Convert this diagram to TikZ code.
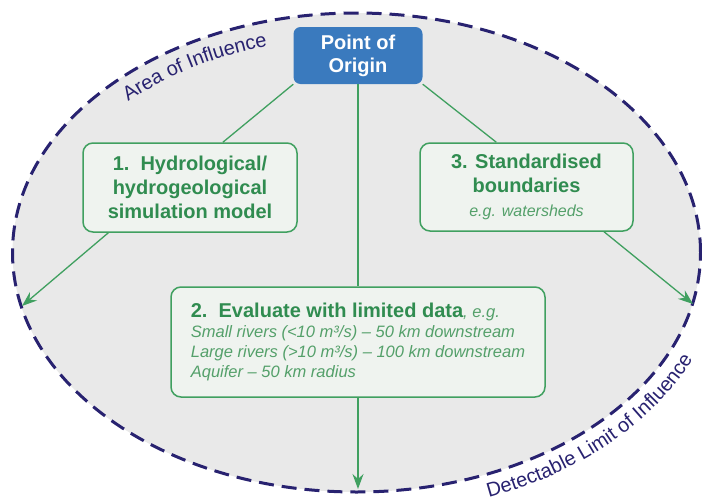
\documentclass[tikz,border=0pt]{standalone}
\usepackage{fontspec}
\setmainfont{Liberation Sans}
\usetikzlibrary{arrows.meta,decorations.text}
\definecolor{areagray}{RGB}{233,233,233}
\definecolor{limitnavy}{RGB}{40,34,112}
\definecolor{linegreen}{RGB}{64,160,96}
\definecolor{textgreen}{RGB}{48,140,80}
\definecolor{examplegreen}{RGB}{84,160,106}
\definecolor{boxfill}{RGB}{239,243,239}
\definecolor{originblue}{RGB}{58,122,190}

\begin{document}
\begin{tikzpicture}[x=1pt,y=1pt,
  origin/.style={fill=originblue, text=white, rounded corners=7pt, align=center,
    minimum width=129pt, minimum height=57pt, inner sep=0pt,
    font=\bfseries\fontsize{20}{23}\selectfont},
  method/.style={draw=linegreen, line width=1.5pt, fill=boxfill, rounded corners=10pt,
    text=textgreen, align=center, inner sep=0pt},
  link/.style={linegreen, line width=1.3pt},
  flow/.style={link, -{Stealth[length=15pt,width=11pt,inset=5pt]}}]
  \useasboundingbox (0,0) rectangle (702,-501);

  % Draw area of influence
  \filldraw[areagray, draw=limitnavy, line width=3pt, dash pattern=on 15pt off 8pt]
    (356.5,-252.5) ellipse [x radius=344, y radius=239.5];

  % Label the limits
  \path[decorate, decoration={text along path, text align=center,
      text={|\fontsize{20}{20}\selectfont\color{limitnavy}|Area of Influence}}]
    (356.5,-252.5) ++(138:320 and 215) arc[start angle=138, end angle=104, x radius=320, y radius=215];
  \path[decorate, decoration={text along path, text align=center,
      text={|\fontsize{20}{20}\selectfont\color{limitnavy}|Detectable Limit of Influence}}]
    (356.5,-252.5) ++(-72:368 and 263) arc[start angle=-72, end angle=-20, x radius=368, y radius=263];

  % Draw boxes
  \node[origin] (origin) at (358,-55.5) {Point of\\Origin};
  \node[method, minimum width=214pt, minimum height=89pt,
    font=\bfseries\fontsize{20}{24}\selectfont] (hydro) at (190,-187.5)
    {1.\ \ Hydrological/\\hydrogeological\\simulation model};
  \node[method, minimum width=213pt, minimum height=88pt,
    font=\bfseries\fontsize{20}{24}\selectfont] (bound) at (526.5,-187)
    {3. Standardised\\boundaries\\{\color{examplegreen}\mdseries\itshape\fontsize{16}{20}\selectfont e.g. watersheds}};
  \node[method, minimum width=374pt, minimum height=110pt, align=left,
    font=\itshape\fontsize{16.5}{20}\selectfont] (limited) at (358,-342)
    {{\color{textgreen}\upshape\bfseries\fontsize{20}{20}\selectfont 2.\ \ Evaluate with limited data}{\color{examplegreen}, e.g.}\\
     \color{examplegreen}Small rivers (<10 m³/s) -- 50 km downstream\\
     \color{examplegreen}Large rivers (>10 m³/s) -- 100 km downstream\\
     \color{examplegreen}Aquifer -- 50 km radius};

  % Draw connectors
  \coordinate (leftend) at (22,-306);
  \coordinate (rightend) at (693,-304);
  \coordinate (bottomend) at (358,-489);
  \draw[link] (origin.south west) -- (hydro.54);
  \draw[link] (origin.south east) -- (bound.124);
  \draw[link] (origin.south) -- (limited.north);
  \draw[flow] (hydro.209) -- (leftend);
  \draw[flow] (bound.-30) -- (rightend);
  \draw[flow] (limited.south) -- (bottomend);
\end{tikzpicture}
\end{document}
